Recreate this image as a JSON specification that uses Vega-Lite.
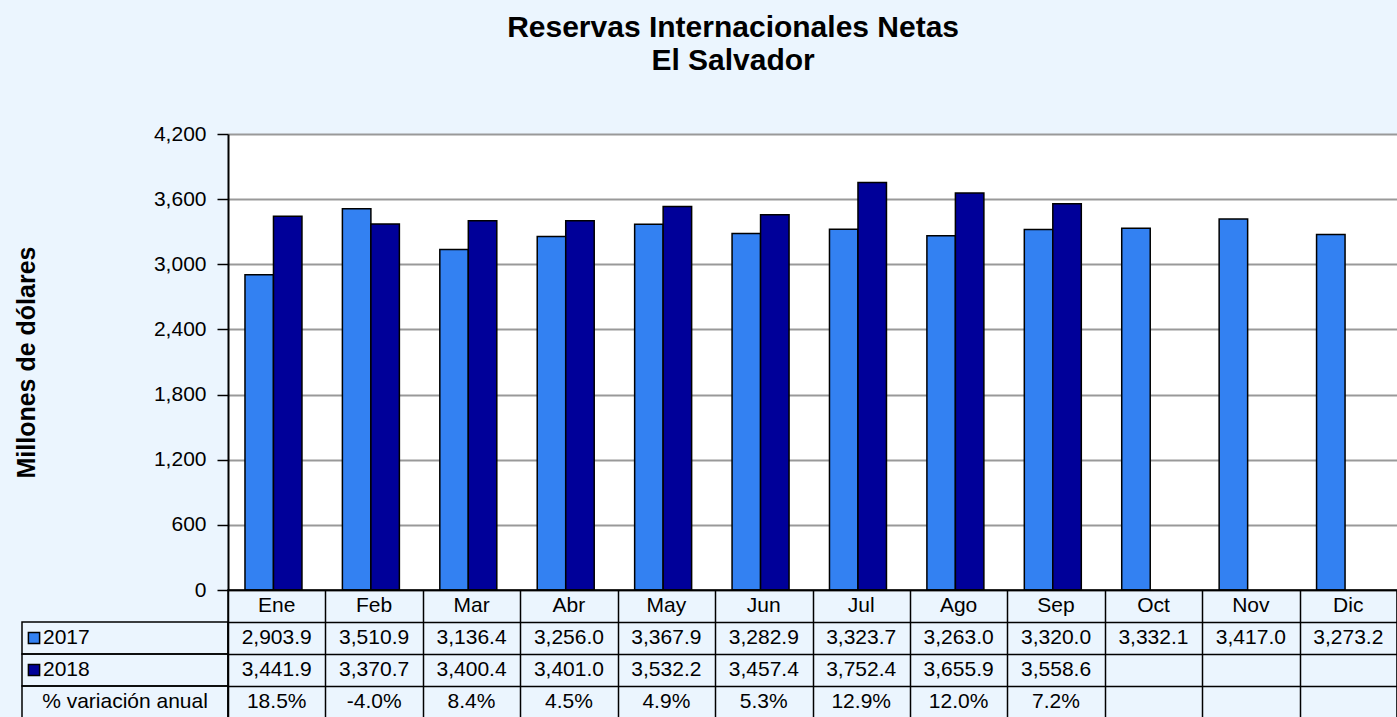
{
  "$schema": "https://vega.github.io/schema/vega-lite/v6.json",
  "background": "#EBF5FE",
  "padding": {"left": 14, "top": 13, "right": 0, "bottom": 0},
  "autosize": {"type": "pad"},
  "title": {
    "text": ["Reservas Internacionales Netas", "El Salvador"],
    "fontSize": 30,
    "fontWeight": "bold",
    "font": "Liberation Sans",
    "color": "black",
    "lineHeight": 33,
    "anchor": "middle",
    "offset": 47,
    "dx": 27
  },
  "datasets": {
    "reservas": [
      {"mes": "Ene", "anio": "2017", "valor": 2903.9},
      {"mes": "Feb", "anio": "2017", "valor": 3510.9},
      {"mes": "Mar", "anio": "2017", "valor": 3136.4},
      {"mes": "Abr", "anio": "2017", "valor": 3256.0},
      {"mes": "May", "anio": "2017", "valor": 3367.9},
      {"mes": "Jun", "anio": "2017", "valor": 3282.9},
      {"mes": "Jul", "anio": "2017", "valor": 3323.7},
      {"mes": "Ago", "anio": "2017", "valor": 3263.0},
      {"mes": "Sep", "anio": "2017", "valor": 3320.0},
      {"mes": "Oct", "anio": "2017", "valor": 3332.1},
      {"mes": "Nov", "anio": "2017", "valor": 3417.0},
      {"mes": "Dic", "anio": "2017", "valor": 3273.2},
      {"mes": "Ene", "anio": "2018", "valor": 3441.9},
      {"mes": "Feb", "anio": "2018", "valor": 3370.7},
      {"mes": "Mar", "anio": "2018", "valor": 3400.4},
      {"mes": "Abr", "anio": "2018", "valor": 3401.0},
      {"mes": "May", "anio": "2018", "valor": 3532.2},
      {"mes": "Jun", "anio": "2018", "valor": 3457.4},
      {"mes": "Jul", "anio": "2018", "valor": 3752.4},
      {"mes": "Ago", "anio": "2018", "valor": 3655.9},
      {"mes": "Sep", "anio": "2018", "valor": 3558.6}
    ],
    "variacion": [
      {"mes": "Ene", "pct": 0.185},
      {"mes": "Feb", "pct": -0.040},
      {"mes": "Mar", "pct": 0.084},
      {"mes": "Abr", "pct": 0.045},
      {"mes": "May", "pct": 0.049},
      {"mes": "Jun", "pct": 0.053},
      {"mes": "Jul", "pct": 0.129},
      {"mes": "Ago", "pct": 0.120},
      {"mes": "Sep", "pct": 0.072}
    ],
    "etiquetas": [
      {"fila": "2017", "etiqueta": "2017"},
      {"fila": "2018", "etiqueta": "2018"},
      {"fila": "v", "etiqueta": "% variación anual"}
    ]
  },
  "columns": 2,
  "spacing": 0,
  "bounds": "flush",
  "resolve": {"scale": {"x": "independent", "y": "independent", "color": "independent"}},
  "concat": [
    {
      "width": 206,
      "height": 456,
      "data": {"values": []},
      "view": {"stroke": null},
      "mark": {"type": "text"},
      "encoding": {}
    },
    {
      "width": 1169,
      "height": 456,
      "data": {"name": "reservas"},
      "view": {"fill": "white", "stroke": null},
      "mark": {"type": "bar", "stroke": "black", "strokeWidth": 1.5},
      "encoding": {
        "x": {
          "field": "mes", "type": "nominal",
          "scale": {"domain": ["Ene","Feb","Mar","Abr","May","Jun","Jul","Ago","Sep","Oct","Nov","Dic"], "paddingInner": 0.415, "paddingOuter": 0.2075, "align": 0.42},
          "axis": null
        },
        "xOffset": {
          "field": "anio", "type": "nominal",
          "scale": {"domain": ["2017", "2018"], "paddingInner": 0, "paddingOuter": 0}
        },
        "y": {
          "field": "valor", "type": "quantitative",
          "scale": {"domain": [0, 4200], "nice": false},
          "axis": {
            "values": [0, 600, 1200, 1800, 2400, 3000, 3600, 4200],
            "format": ",.0f",
            "title": "Millones de dólares",
            "titleFontSize": 25,
            "titleFontWeight": "bold",
            "titleColor": "black",
            "titlePadding": 114,
            "labelFontSize": 21,
            "labelColor": "black",
            "labelPadding": 11,
            "tickSize": 11,
            "tickColor": "black",
            "tickWidth": 1.5,
            "domainColor": "black",
            "domainWidth": 2,
            "grid": true,
            "gridColor": "#999999",
            "gridWidth": 2
          }
        },
        "color": {
          "field": "anio", "type": "nominal",
          "scale": {"domain": ["2017", "2018"], "range": ["#3381F2", "#000099"]},
          "legend": null
        }
      }
    },
    {
      "width": 206,
      "height": 128,
      "data": {"name": "etiquetas"},
      "view": {"stroke": null},
      "encoding": {
        "y": {
          "field": "fila", "type": "nominal",
          "scale": {"domain": ["h", "2017", "2018", "v"], "paddingInner": 0, "paddingOuter": 0},
          "axis": null
        }
      },
      "layer": [
        {
          "mark": {"type": "rect", "fill": "transparent", "stroke": "black", "strokeWidth": 1.5}
        },
        {
          "transform": [{"filter": "datum.fila !== 'v'"}],
          "mark": {"type": "point", "shape": "square", "filled": true, "size": 125, "stroke": "black", "strokeWidth": 1.5, "opacity": 1, "xOffset": -91},
          "encoding": {
            "color": {
              "field": "fila", "type": "nominal",
              "scale": {"domain": ["2017", "2018"], "range": ["#3381F2", "#000099"]},
              "legend": null
            }
          }
        },
        {
          "transform": [{"filter": "datum.fila !== 'v'"}],
          "mark": {"type": "text", "align": "left", "dx": -82, "fontSize": 21, "color": "black"},
          "encoding": {"text": {"field": "etiqueta", "type": "nominal"}}
        },
        {
          "transform": [{"filter": "datum.fila === 'v'"}],
          "mark": {"type": "text", "align": "center", "fontSize": 21, "color": "black"},
          "encoding": {"text": {"field": "etiqueta", "type": "nominal"}}
        }
      ]
    },
    {
      "width": 1169,
      "height": 128,
      "view": {"stroke": "black", "strokeWidth": 1.5},
      "encoding": {
        "x": {
          "field": "mes", "type": "nominal",
          "scale": {"domain": ["Ene","Feb","Mar","Abr","May","Jun","Jul","Ago","Sep","Oct","Nov","Dic"], "paddingInner": 0, "paddingOuter": 0},
          "axis": {"grid": true, "tickBand": "extent", "labels": false, "ticks": false, "domain": false, "title": null, "gridColor": "black", "gridWidth": 1.5, "gridOpacity": 1}
        }
      },
      "layer": [
        {
          "data": {"name": "reservas"},
          "transform": [{"filter": "datum.anio === '2017'"}],
          "mark": {"type": "text", "fontSize": 21, "color": "black"},
          "encoding": {
            "y": {
              "datum": "h", "type": "nominal",
              "scale": {"domain": ["h", "2017", "2018", "v"], "paddingInner": 0, "paddingOuter": 0},
              "axis": {"grid": true, "tickBand": "extent", "labels": false, "ticks": false, "domain": false, "title": null, "gridColor": "black", "gridWidth": 1.5, "gridOpacity": 1}
            },
            "text": {"field": "mes", "type": "nominal"}
          }
        },
        {
          "data": {"name": "reservas"},
          "mark": {"type": "text", "fontSize": 21, "color": "black"},
          "encoding": {
            "y": {"field": "anio", "type": "nominal"},
            "text": {"field": "valor", "type": "quantitative", "format": ",.1f"}
          }
        },
        {
          "data": {"name": "variacion"},
          "mark": {"type": "text", "fontSize": 21, "color": "black"},
          "encoding": {
            "y": {"datum": "v", "type": "nominal"},
            "text": {"field": "pct", "type": "quantitative", "format": ".1%"}
          }
        }
      ]
    }
  ],
  "config": {
    "font": "Liberation Sans",
    "locale": {"number": {"decimal": ".", "thousands": ",", "grouping": [3], "currency": ["$", ""], "minus": "-"}},
    "axis": {"labelFont": "Liberation Sans", "titleFont": "Liberation Sans"}
  }
}
